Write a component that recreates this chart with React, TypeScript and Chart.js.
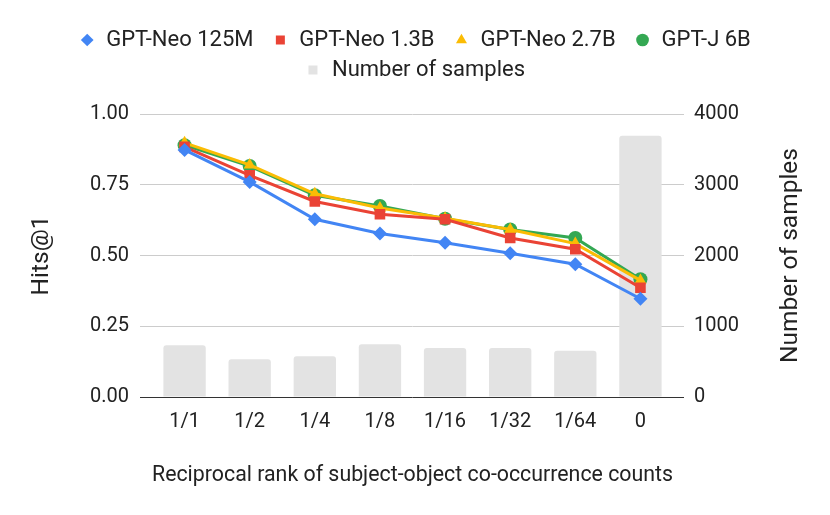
import { useEffect, useRef } from 'react';
import { Chart, registerables } from 'chart.js';

Chart.register(...registerables);

const categories = ['1/1', '1/2', '1/4', '1/8', '1/16', '1/32', '1/64', '0'];
const gptNeo125M = [0.873, 0.76, 0.628, 0.578, 0.545, 0.508, 0.469, 0.347];
const gptNeo13B = [0.884, 0.783, 0.691, 0.646, 0.628, 0.562, 0.522, 0.386];
const gptNeo27B = [0.898, 0.82, 0.718, 0.668, 0.632, 0.592, 0.542, 0.412];
const gptJ6B = [0.89, 0.816, 0.713, 0.675, 0.63, 0.592, 0.562, 0.416];
const sampleCounts = [731, 533, 576, 745, 693, 693, 655, 3693];

const TEXT = '#222222';
const GRID = '#cccccc';
const ZERO = '#333333';
const Y_TITLE_SIZE = 24.5;

const gridColor = (ctx: any) => (ctx.tick && ctx.tick.value === 0 ? ZERO : GRID);

// pins the legend box height so the plot starts where the reference does
const legendHeight = {
  id: 'legendHeight',
  afterInit(chart: any) {
    const legend = chart.legend;
    const fit = legend.fit;
    legend.fit = function () {
      fit.call(this);
      this.height = 93;
    };
  }
};

// right axis title reads bottom-to-top, which Chart.js can't do for a right axis
const rightTitle = {
  id: 'rightTitle',
  afterDraw(chart: any) {
    const scale = chart.scales.y1;
    const { ctx, chartArea } = chart;
    ctx.save();
    ctx.translate(scale.right - 8 - Y_TITLE_SIZE * 0.6, (chartArea.top + chartArea.bottom) / 2);
    ctx.rotate(-Math.PI / 2);
    ctx.font = `${Y_TITLE_SIZE}px Roboto`;
    ctx.fillStyle = TEXT;
    ctx.textAlign = 'center';
    ctx.textBaseline = 'middle';
    ctx.fillText('Number of samples', 0, 0);
    ctx.restore();
  }
};

export default function App() {
  const canvasRef = useRef<HTMLCanvasElement | null>(null);

  useEffect(() => {
    document.body.style.margin = '0';
    if (!canvasRef.current) return;

    const line = (label: string, data: number[], color: string, pointStyle: string, radius: number, order: number) => ({
      type: 'line' as const,
      label,
      data,
      yAxisID: 'y',
      borderColor: color,
      backgroundColor: color,
      borderWidth: 3,
      pointStyle,
      pointRadius: radius,
      pointHoverRadius: radius,
      pointBorderWidth: 0,
      tension: 0,
      fill: false,
      order
    });

    const chart = new Chart(canvasRef.current, {
      type: 'bar',
      data: {
        labels: categories,
        datasets: [
          line('GPT-Neo 125M', gptNeo125M, '#4285f4', 'rectRot', 7, 1),
          line('GPT-Neo 1.3B', gptNeo13B, '#ea4335', 'rect', 7.5, 2),
          line('GPT-Neo 2.7B', gptNeo27B, '#fbbc04', 'triangle', 7, 3),
          line('GPT-J 6B', gptJ6B, '#34a853', 'circle', 7, 4),
          {
            type: 'bar' as const,
            label: 'Number of samples',
            data: sampleCounts,
            yAxisID: 'y1',
            backgroundColor: '#e3e3e3',
            barPercentage: 0.65,
            categoryPercentage: 1,
            borderRadius: 3,
            pointStyle: 'rect',
            order: 5
          } as any
        ]
      },
      options: {
        responsive: false,
        animation: false,
        layout: { padding: { top: 21, left: 16, right: 16, bottom: 0 } },
        font: { family: 'Roboto' },
        plugins: {
          legend: {
            position: 'top',
            labels: {
              usePointStyle: true,
              boxWidth: 16,
              boxHeight: 9,
              padding: 8,
              color: TEXT,
              font: { family: 'Roboto', size: 22 },
              generateLabels: (c: any) =>
                Chart.defaults.plugins.legend.labels.generateLabels(c).map((item: any) => ({
                  ...item,
                  lineWidth: 0,
                  text: item.datasetIndex < 3 ? item.text + '  ' : item.text
                }))
            }
          },
          tooltip: { enabled: false }
        },
        scales: {
          x: {
            grid: { display: false },
            border: { display: false },
            ticks: { color: TEXT, font: { family: 'Roboto', size: 20 }, padding: 5 },
            title: {
              display: true,
              text: 'Reciprocal rank of subject-object co-occurrence counts',
              color: TEXT,
              font: { family: 'Roboto', size: 22.2 },
              padding: { top: 0, bottom: 26 }
            },
            afterFit: (s: any) => {
              s.height = 118;
            }
          },
          y: {
            position: 'left',
            min: 0,
            max: 1,
            ticks: {
              stepSize: 0.25,
              callback: (v: any) => Number(v).toFixed(2),
              padding: 11,
              color: TEXT,
              font: { family: 'Roboto', size: 20 }
            },
            grid: { color: gridColor, tickColor: gridColor, tickLength: 12 },
            border: { display: false },
            title: {
              display: true,
              text: 'Hits@1',
              color: TEXT,
              font: { family: 'Roboto', size: Y_TITLE_SIZE },
              padding: { top: 11, bottom: 0 }
            },
            afterFit: (s: any) => {
              s.width = 136;
            }
          },
          y1: {
            position: 'right',
            min: 0,
            max: 4000,
            ticks: {
              stepSize: 1000,
              callback: (v: any) => String(v),
              padding: 10,
              color: TEXT,
              font: { family: 'Roboto', size: 20 }
            },
            grid: { drawOnChartArea: false, color: gridColor, tickColor: gridColor, tickLength: 11 },
            border: { display: false },
            afterFit: (s: any) => {
              s.width = 141;
            }
          }
        }
      } as any,
      plugins: [legendHeight, rightTitle]
    });

    return () => {
      chart.destroy();
    };
  }, []);

  return <canvas ref={canvasRef} width={830} height={515} />;
}
